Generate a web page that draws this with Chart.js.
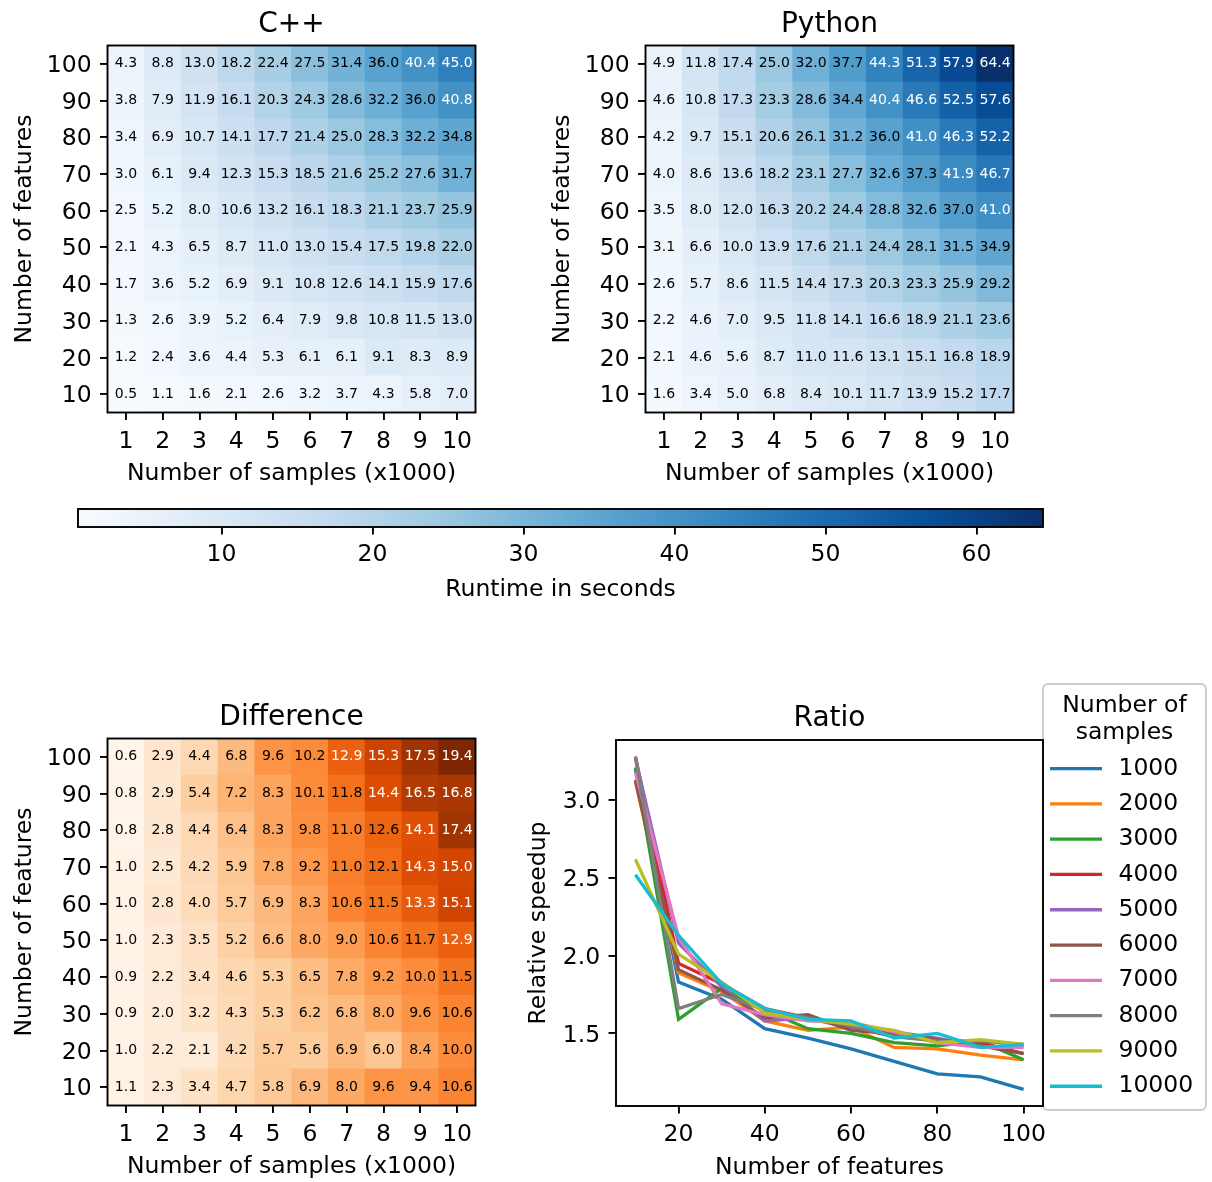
<!DOCTYPE html>
<html>
<head>
<meta charset="utf-8">
<script src="https://cdn.jsdelivr.net/npm/chart.js@4.4.1/dist/chart.umd.min.js"></script>
<style>
  html, body { margin: 0; padding: 0; background: #fff; overflow: hidden; }
  #fig { position: relative; width: 1212px; height: 1182px; }
  #fig canvas { position: absolute; }
</style>
</head>
<body>
<div id="fig">
  <canvas id="cpp" width="540" height="495" style="left:0;top:0"></canvas>
  <canvas id="python" width="540" height="495" style="left:538px;top:0"></canvas>
  <canvas id="cbar" width="1212" height="120" style="left:0;top:495px"></canvas>
  <canvas id="diff" width="540" height="495" style="left:0;top:693px"></canvas>
  <canvas id="ratio" width="707" height="518" style="left:505px;top:670px"></canvas>
</div>
<script>
// samples (x1000) on x, features on y (rows listed from 10 up to 100)
const sampleLabels = ["1", "2", "3", "4", "5", "6", "7", "8", "9", "10"];
const features = [10, 20, 30, 40, 50, 60, 70, 80, 90, 100];

const cppTimes = [
  [0.5, 1.1, 1.6, 2.1, 2.6, 3.2, 3.7, 4.3, 5.8, 7.0],
  [1.2, 2.4, 3.6, 4.4, 5.3, 6.1, 6.1, 9.1, 8.3, 8.9],
  [1.3, 2.6, 3.9, 5.2, 6.4, 7.9, 9.8, 10.8, 11.5, 13.0],
  [1.7, 3.6, 5.2, 6.9, 9.1, 10.8, 12.6, 14.1, 15.9, 17.6],
  [2.1, 4.3, 6.5, 8.7, 11.0, 13.0, 15.4, 17.5, 19.8, 22.0],
  [2.5, 5.2, 8.0, 10.6, 13.2, 16.1, 18.3, 21.1, 23.7, 25.9],
  [3.0, 6.1, 9.4, 12.3, 15.3, 18.5, 21.6, 25.2, 27.6, 31.7],
  [3.4, 6.9, 10.7, 14.1, 17.7, 21.4, 25.0, 28.3, 32.2, 34.8],
  [3.8, 7.9, 11.9, 16.1, 20.3, 24.3, 28.6, 32.2, 36.0, 40.8],
  [4.3, 8.8, 13.0, 18.2, 22.4, 27.5, 31.4, 36.0, 40.4, 45.0]
];

const pythonTimes = [
  [1.6, 3.4, 5.0, 6.8, 8.4, 10.1, 11.7, 13.9, 15.2, 17.7],
  [2.1, 4.6, 5.6, 8.7, 11.0, 11.6, 13.1, 15.1, 16.8, 18.9],
  [2.2, 4.6, 7.0, 9.5, 11.8, 14.1, 16.6, 18.9, 21.1, 23.6],
  [2.6, 5.7, 8.6, 11.5, 14.4, 17.3, 20.3, 23.3, 25.9, 29.2],
  [3.1, 6.6, 10.0, 13.9, 17.6, 21.1, 24.4, 28.1, 31.5, 34.9],
  [3.5, 8.0, 12.0, 16.3, 20.2, 24.4, 28.8, 32.6, 37.0, 41.0],
  [4.0, 8.6, 13.6, 18.2, 23.1, 27.7, 32.6, 37.3, 41.9, 46.7],
  [4.2, 9.7, 15.1, 20.6, 26.1, 31.2, 36.0, 41.0, 46.3, 52.2],
  [4.6, 10.8, 17.3, 23.3, 28.6, 34.4, 40.4, 46.6, 52.5, 57.6],
  [4.9, 11.8, 17.4, 25.0, 32.0, 37.7, 44.3, 51.3, 57.9, 64.4]
];

const diffTimes = [
  [1.1, 2.3, 3.4, 4.7, 5.8, 6.9, 8.0, 9.6, 9.4, 10.6],
  [1.0, 2.2, 2.1, 4.2, 5.7, 5.6, 6.9, 6.0, 8.4, 10.0],
  [0.9, 2.0, 3.2, 4.3, 5.3, 6.2, 6.8, 8.0, 9.6, 10.6],
  [0.9, 2.2, 3.4, 4.6, 5.3, 6.5, 7.8, 9.2, 10.0, 11.5],
  [1.0, 2.3, 3.5, 5.2, 6.6, 8.0, 9.0, 10.6, 11.7, 12.9],
  [1.0, 2.8, 4.0, 5.7, 6.9, 8.3, 10.6, 11.5, 13.3, 15.1],
  [1.0, 2.5, 4.2, 5.9, 7.8, 9.2, 11.0, 12.1, 14.3, 15.0],
  [0.8, 2.8, 4.4, 6.4, 8.3, 9.8, 11.0, 12.6, 14.1, 17.4],
  [0.8, 2.9, 5.4, 7.2, 8.3, 10.1, 11.8, 14.4, 16.5, 16.8],
  [0.6, 2.9, 4.4, 6.8, 9.6, 10.2, 12.9, 15.3, 17.5, 19.4]
];

// ratio lines, one per sample count, over features 10..100
const sampleCounts = ["1000", "2000", "3000", "4000", "5000", "6000", "7000", "8000", "9000", "10000"];
const ratioSeries = [
  [3.20, 1.83, 1.72, 1.53, 1.47, 1.40, 1.32, 1.24, 1.22, 1.14],
  [3.12, 1.89, 1.77, 1.58, 1.52, 1.54, 1.41, 1.40, 1.36, 1.33],
  [3.21, 1.59, 1.79, 1.65, 1.53, 1.50, 1.44, 1.42, 1.45, 1.33],
  [3.28, 1.95, 1.82, 1.66, 1.60, 1.54, 1.48, 1.46, 1.44, 1.37],
  [3.27, 2.08, 1.80, 1.58, 1.60, 1.53, 1.51, 1.47, 1.41, 1.42],
  [3.13, 1.91, 1.78, 1.60, 1.62, 1.52, 1.50, 1.46, 1.42, 1.37],
  [3.18, 2.12, 1.69, 1.62, 1.58, 1.57, 1.51, 1.44, 1.41, 1.41],
  [3.28, 1.66, 1.75, 1.65, 1.60, 1.55, 1.48, 1.45, 1.45, 1.43],
  [2.62, 2.01, 1.83, 1.63, 1.59, 1.56, 1.52, 1.44, 1.46, 1.43],
  [2.52, 2.13, 1.82, 1.66, 1.59, 1.58, 1.47, 1.50, 1.41, 1.43]
];

const colorbarTicks = [10, 20, 30, 40, 50, 60];
const ratioXTicks = [20, 40, 60, 80, 100];
const ratioYTicks = [1.5, 2.0, 2.5, 3.0];

const blues = ["#f7fbff", "#deebf7", "#c6dbef", "#9ecae1", "#6baed6", "#4292c6", "#2171b5", "#08519c", "#08306b"];
const oranges = ["#fff5eb", "#fee6ce", "#fdd0a2", "#fdae6b", "#fd8d3c", "#f16913", "#d94801", "#a63603", "#7f2704"];
const lineColors = ["#1f77b4", "#ff7f0e", "#2ca02c", "#d62728", "#9467bd", "#8c564b", "#e377c2", "#7f7f7f", "#bcbd22", "#17becf"];

Chart.defaults.font.family = "'DejaVu Sans', sans-serif";
Chart.defaults.font.size = 23.5;
Chart.defaults.color = "#000";

function makeCmap(stops) {
  const rgb = stops.map(h => [1, 3, 5].map(k => parseInt(h.substr(k, 2), 16)));
  return t => {
    t = Math.min(1, Math.max(0, t));
    const p = t * (rgb.length - 1);
    const i = Math.min(Math.floor(p), rgb.length - 2);
    const f = p - i;
    const c = rgb[i].map((v, k) => Math.round(v + (rgb[i + 1][k] - v) * f));
    return "rgb(" + c.join(",") + ")";
  };
}

function tickGrid() {
  return { drawOnChartArea: false, drawTicks: true, tickLength: 7.5, color: "#000", lineWidth: 1.9, offset: false };
}

const frame = {
  id: "frame",
  afterDraw(chart) {
    const { ctx, chartArea: a } = chart;
    ctx.save();
    ctx.strokeStyle = "#000";
    ctx.lineWidth = 1.9;
    ctx.strokeRect(a.left, a.top, a.right - a.left, a.bottom - a.top);
    ctx.restore();
  }
};

const cellText = {
  id: "cellText",
  afterDatasetsDraw(chart, args, opts) {
    const ctx = chart.ctx;
    ctx.save();
    ctx.font = "14px 'DejaVu Sans'";
    ctx.textAlign = "center";
    ctx.textBaseline = "middle";
    opts.rows.forEach((row, i) => {
      chart.getDatasetMeta(i).data.forEach((bar, j) => {
        ctx.fillStyle = row[j] > opts.whiteAbove ? "#fff" : "#000";
        ctx.fillText(row[j].toFixed(1), bar.x, (bar.y + bar.base) / 2);
      });
    });
    ctx.restore();
  }
};

function heatmap(id, title, rows, stops, vmin, vmax, whiteAbove) {
  const cmap = makeCmap(stops);
  new Chart(document.getElementById(id), {
    type: "bar",
    data: {
      labels: sampleLabels,
      datasets: rows.map((row, i) => ({
        data: row.map(() => [features[i] - 5, features[i] + 5]),
        backgroundColor: row.map(v => cmap((v - vmin) / (vmax - vmin))),
        borderWidth: 0,
        barPercentage: 1,
        categoryPercentage: 1
      }))
    },
    options: {
      responsive: false,
      animation: false,
      layout: { padding: { left: 0, right: 64.5, top: 0, bottom: 0 } },
      plugins: {
        legend: { display: false },
        tooltip: { enabled: false },
        title: {
          display: true, text: title, fullSize: false, color: "#000",
          font: { size: 28, weight: "normal" },
          padding: { top: 7.7, bottom: 4.2 }
        },
        cellText: { rows: rows, whiteAbove: whiteAbove }
      },
      scales: {
        x: {
          stacked: true,
          offset: true,
          grid: tickGrid(),
          border: { display: false },
          ticks: { padding: 7.5 },
          title: { display: true, text: "Number of samples (x1000)", padding: { bottom: 6.7 } },
          afterFit: s => { s.height = 82.5; }
        },
        y: {
          stacked: false,
          min: 5,
          max: 105,
          afterBuildTicks: s => { s.ticks = features.map(v => ({ value: v })); },
          grid: tickGrid(),
          border: { display: false },
          ticks: { padding: 8.3, labelOffset: 2 },
          title: { display: true, text: "Number of features", padding: { top: 10.7 } },
          afterFit: s => { s.width = 107.5; }
        }
      }
    },
    plugins: [cellText, frame]
  });
}

const allTimes = cppTimes.flat().concat(pythonTimes.flat());
const timeMin = Math.min(...allTimes);
const timeMax = Math.max(...allTimes);
const diffMin = Math.min(...diffTimes.flat());
const diffMax = Math.max(...diffTimes.flat());

heatmap("cpp", "C++", cppTimes, blues, timeMin, timeMax, 39);
heatmap("python", "Python", pythonTimes, blues, timeMin, timeMax, 39);
heatmap("diff", "Difference", diffTimes, oranges, diffMin, diffMax, 12.7);

// colorbar
const gradientBar = {
  id: "gradientBar",
  beforeDatasetsDraw(chart) {
    const { ctx, chartArea: a, scales: { x } } = chart;
    const g = ctx.createLinearGradient(x.getPixelForValue(x.min), 0, x.getPixelForValue(x.max), 0);
    blues.forEach((c, i) => g.addColorStop(i / (blues.length - 1), c));
    ctx.save();
    ctx.fillStyle = g;
    ctx.fillRect(a.left, a.top, a.right - a.left, a.bottom - a.top);
    ctx.restore();
  }
};

new Chart(document.getElementById("cbar"), {
  type: "scatter",
  data: { datasets: [] },
  options: {
    responsive: false,
    animation: false,
    layout: { padding: { left: 78, right: 169, top: 14, bottom: 0 } },
    plugins: { legend: { display: false }, tooltip: { enabled: false } },
    scales: {
      x: {
        type: "linear",
        min: timeMin,
        max: timeMax,
        afterBuildTicks: s => { s.ticks = colorbarTicks.map(v => ({ value: v })); },
        grid: tickGrid(),
        border: { display: false },
        ticks: { padding: 6.6 },
        title: { display: true, text: "Runtime in seconds", padding: { bottom: 11.1 } },
        afterFit: s => { s.height = 88; }
      },
      y: { display: false }
    }
  },
  plugins: [gradientBar, frame]
});

// ratio line chart with the boxed legend to its right
const legendBox = {
  id: "legendBox",
  afterLayout(chart) {
    const lg = chart.legend;
    lg.left = 533.2;
    lg.top = 14;
    lg.width = 172.6;
    lg.height = 426;
    lg.right = lg.left + lg.width;
    lg.bottom = lg.top + lg.height;
  },
  beforeDraw(chart) {
    const ctx = chart.ctx;
    ctx.save();
    ctx.beginPath();
    ctx.roundRect(538, 14, 163, 426, 5);
    ctx.fillStyle = "rgba(255,255,255,0.8)";
    ctx.fill();
    ctx.strokeStyle = "#cccccc";
    ctx.lineWidth = 1.9;
    ctx.stroke();
    ctx.restore();
  }
};

new Chart(document.getElementById("ratio"), {
  type: "line",
  data: {
    datasets: sampleCounts.map((n, i) => ({
      label: n,
      data: ratioSeries[i].map((v, j) => ({ x: features[j], y: v })),
      borderColor: lineColors[i],
      backgroundColor: lineColors[i],
      borderWidth: 3.3,
      pointRadius: 0,
      tension: 0,
      order: sampleCounts.length - i   // later series drawn on top
    }))
  },
  options: {
    responsive: false,
    animation: false,
    layout: { padding: { left: 0, right: 169, top: 0, bottom: 0 } },
    plugins: {
      tooltip: { enabled: false },
      title: {
        display: true, text: "Ratio", fullSize: false, color: "#000",
        font: { size: 28, weight: "normal" },
        padding: { top: 31.7, bottom: 4.7 }
      },
      legend: {
        position: "chartArea",
        align: "start",
        labels: {
          usePointStyle: true, pointStyle: "line", pointStyleWidth: 52,
          padding: 11.8, color: "#000", font: { size: 23.5 },
          sort: (a, b) => a.datasetIndex - b.datasetIndex,
          generateLabels: chart => Chart.defaults.plugins.legend.labels.generateLabels(chart)
            .map(item => Object.assign(item, { text: "\u2009" + item.text }))
        },
        title: {
          display: true, text: ["Number of", "samples"], position: "center", color: "#000",
          font: { size: 23.5, lineHeight: 1.15 },
          padding: { top: 9.75, bottom: 24.2 }
        }
      }
    },
    scales: {
      x: {
        type: "linear",
        min: 5.5,
        max: 104.5,
        afterBuildTicks: s => { s.ticks = ratioXTicks.map(v => ({ value: v })); },
        grid: tickGrid(),
        border: { display: false },
        ticks: { padding: 7.5 },
        title: { display: true, text: "Number of features", padding: { bottom: 5.7 } },
        afterFit: s => { s.height = 82; }
      },
      y: {
        min: 1.033,
        max: 3.387,
        afterBuildTicks: s => { s.ticks = ratioYTicks.map(v => ({ value: v })); },
        grid: tickGrid(),
        border: { display: false },
        ticks: { padding: 8.3, labelOffset: 2, callback: v => v.toFixed(1) },
        title: { display: true, text: "Relative speedup", padding: { top: 19.9 } },
        afterFit: s => { s.width = 111; }
      }
    }
  },
  plugins: [legendBox, frame]
});
</script>
</body>
</html>
